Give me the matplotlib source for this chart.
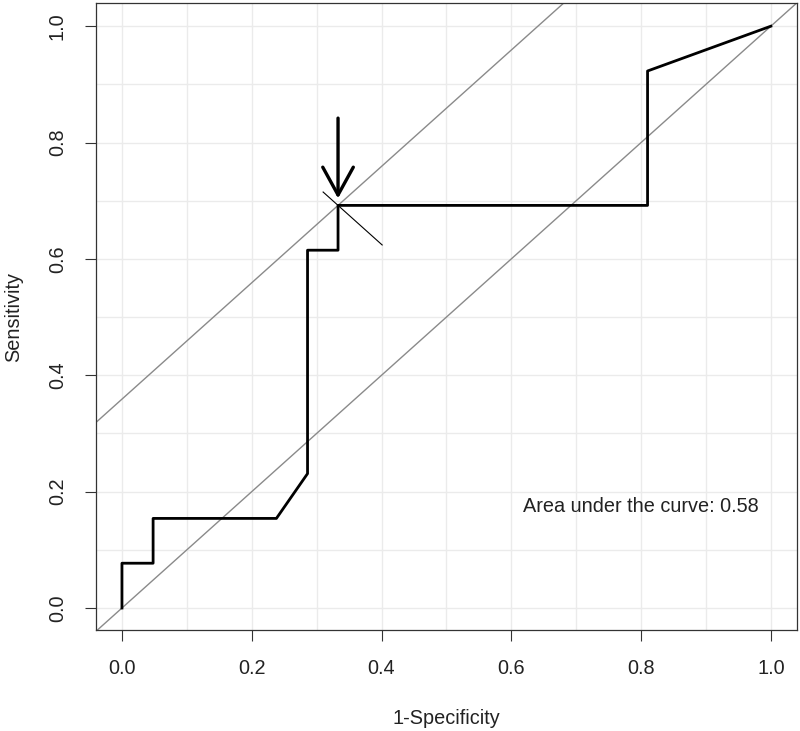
import matplotlib.pyplot as plt
import numpy as np

plt.rcParams['font.family'] = ['Liberation Sans', 'DejaVu Sans']

# ROC curve points (1-specificity, sensitivity)
fpr = [0.0, 0.0, 0.048, 0.048, 0.238, 0.286, 0.286, 0.333, 0.333, 0.810, 0.810, 1.0]
tpr = [0.0, 0.077, 0.077, 0.154, 0.154, 0.231, 0.615, 0.615, 0.692, 0.692, 0.923, 1.0]
best = (0.333, 0.692)
auc = 0.58
ticks = [0.0, 0.2, 0.4, 0.6, 0.8, 1.0]

fig = plt.figure(figsize=(8, 7.31), dpi=100)
ax = fig.add_axes([0.12, 0.138, 0.876, 0.858])

ax.set_xlim(-0.04, 1.04)
ax.set_ylim(-0.038, 1.04)

# light grid every 0.1
for g in np.arange(0, 1.01, 0.1):
    ax.axvline(g, color='#ebebeb', lw=1, zorder=0)
    ax.axhline(g, color='#ebebeb', lw=1, zorder=0)

# chance line and parallel line through the optimal point
xx = np.array([-0.1, 1.1])
ax.plot(xx, xx, color='#8a8a8a', lw=1, zorder=1)
ax.plot(xx, xx + best[1] - best[0], color='#8a8a8a', lw=1, zorder=1)

# short cross line at the optimal point
ax.plot([0.310, 0.401], [best[1] + 0.023, best[1] - 0.068], color='black', lw=0.8, zorder=2)

ax.plot(fpr, tpr, color='black', lw=2, zorder=3)

# arrow pointing to the optimal point
ax.annotate('', xy=(best[0], best[1] + 0.012), xytext=(best[0], 0.842),
            arrowprops=dict(arrowstyle='->,head_length=1.0,head_width=0.55',
                            mutation_scale=20, color='black', lw=2.4,
                            shrinkA=0, shrinkB=0), zorder=4)

ax.text(0.80, 0.175, 'Area under the curve: %.2f' % auc, ha='center', va='center',
        fontsize=14.3, color='#222222')

ax.set_xticks(ticks)
ax.set_yticks(ticks)
ax.set_xticklabels(['%.1f' % t for t in ticks])
ax.set_yticklabels(['%.1f' % t for t in ticks], rotation=90, va='center')
ax.tick_params(direction='out', length=8, width=0.8, color='#333333',
               labelsize=14.3, pad=13, labelcolor='#222222')
for s in ax.spines.values():
    s.set_color('#333333')
    s.set_linewidth(0.9)

ax.set_xlabel('1-Specificity', fontsize=14.3, labelpad=22, color='#222222')
ax.set_ylabel('Sensitivity', fontsize=14.3, labelpad=18, color='#222222')

fig.savefig('out.png', dpi=100)
